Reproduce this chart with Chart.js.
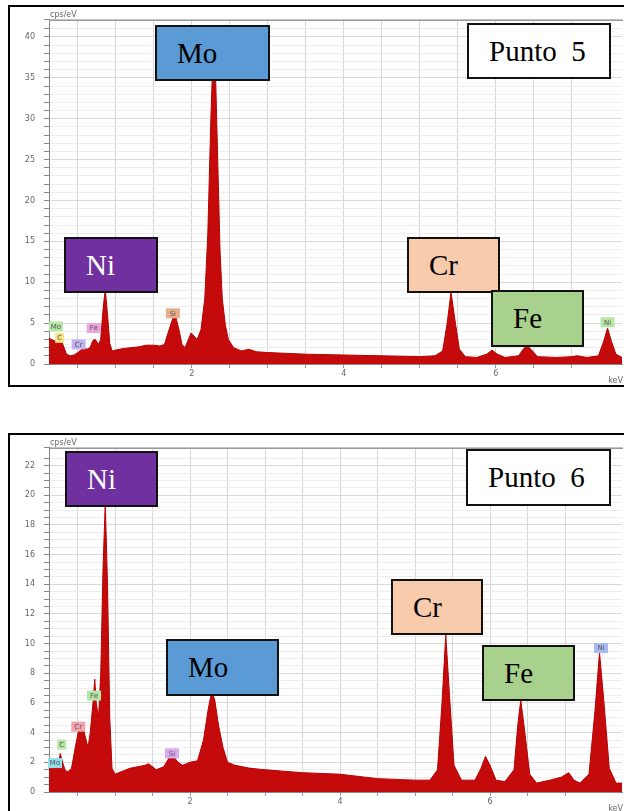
<!DOCTYPE html>
<html>
<head>
<meta charset="utf-8">
<script src="https://cdn.jsdelivr.net/npm/chart.js@4.4.0/dist/chart.umd.min.js"></script>
<style>
  html, body { margin: 0; padding: 0; background: #fff; width: 624px; height: 811px; overflow: hidden; position: relative; }
  .frame { position: absolute; border-left: 2px solid #000; border-top: 2px solid #000; border-bottom: 2px solid #000; box-sizing: border-box; }
  canvas { position: absolute; }
  .box { position: absolute; box-sizing: border-box; border: 2px solid #111; font-family: "Liberation Serif", "Times New Roman", serif; font-size: 29px; line-height: 1; display: flex; align-items: center; padding-left: 20px; color: #000; }
</style>
</head>
<body>
<div class="frame" style="left:8px; top:5px; width:630px; height:382px;"></div>
<div class="frame" style="left:8px; top:433px; width:630px; height:400px;"></div>
<canvas id="c1" width="614" height="380" style="left:9px; top:6px;"></canvas>
<canvas id="c2" width="614" height="380" style="left:9px; top:434px;"></canvas>

<div class="box" style="left:155px; top:25px; width:115px; height:56px; background:#5b9bd5;">Mo</div>
<div class="box" style="left:467px; top:23px; width:144px; height:56px; background:#fff;">Punto&nbsp; 5</div>
<div class="box" style="left:64px; top:237px; width:94px; height:56px; background:#7030a0; color:#fff;">Ni</div>
<div class="box" style="left:407px; top:237px; width:93px; height:56px; background:#f8cbad;">Cr</div>
<div class="box" style="left:491px; top:290px; width:93px; height:57px; background:#a9d18e;">Fe</div>

<div class="box" style="left:65px; top:451px; width:93px; height:56px; background:#7030a0; color:#fff;">Ni</div>
<div class="box" style="left:466px; top:449px; width:145px; height:57px; background:#fff;">Punto&nbsp; 6</div>
<div class="box" style="left:391px; top:579px; width:92px; height:56px; background:#f8cbad;">Cr</div>
<div class="box" style="left:166px; top:639px; width:113px; height:57px; background:#5b9bd5;">Mo</div>
<div class="box" style="left:482px; top:645px; width:93px; height:56px; background:#a9d18e;">Fe</div>

<script>
// ---------- Punto 5 spectrum ----------
const energy5 = [0.12,0.15,0.20,0.25,0.28,0.31,0.35,0.40,0.45,0.50,0.55,0.58,0.62,0.66,0.70,0.73,0.77,0.80,0.83,0.86,0.89,0.92,0.95,1.00,1.10,1.20,1.30,1.40,1.50,1.58,1.64,1.70,1.75,1.79,1.83,1.87,1.91,1.95,1.99,2.03,2.07,2.12,2.17,2.21,2.25,2.28,2.31,2.34,2.37,2.40,2.44,2.48,2.55,2.65,2.75,2.85,3.00,3.50,4.00,4.50,5.00,5.20,5.30,5.36,5.41,5.46,5.52,5.60,5.75,5.88,5.95,6.02,6.12,6.30,6.36,6.41,6.47,6.55,6.80,7.00,7.07,7.20,7.35,7.42,7.47,7.52,7.58,7.66];
const counts5 = [3.2,3.0,2.8,2.7,2.9,2.2,1.2,1.0,1.1,1.4,1.8,2.0,1.8,2.0,2.9,3.0,2.4,3.0,6.5,9.2,6.0,2.5,1.6,1.7,1.9,2.0,2.1,2.3,2.3,2.2,2.4,4.2,5.6,5.7,4.2,2.4,2.0,2.9,3.8,3.4,3.0,4.2,8.0,16.0,30.0,38.5,36.0,25.0,14.0,8.0,4.8,3.0,2.0,1.6,1.8,1.5,1.4,1.2,1.1,1.0,0.9,1.0,1.6,5.0,8.8,5.5,1.8,0.9,0.8,1.2,1.7,1.2,0.8,1.0,1.8,2.3,1.7,0.9,0.8,0.9,1.0,0.8,1.0,2.8,4.4,2.8,1.2,0.8];
const tags5 = ["Mo","C","Cr","Fe","Si","Ni"];
const tagE5 = [0.21,0.26,0.51,0.71,1.75,7.47];
const tagY5 = [4.6,3.2,2.4,4.4,6.2,5.1];
const tagBg5 = ["#b5e6a6","#f4e58a","#c3b2f2","#e7a6dc","#eab08e","#b5e6a6"];
const yTicks5 = [0,5,10,15,20,25,30,35,40];

// ---------- Punto 6 spectrum ----------
const energy6 = [0.12,0.18,0.24,0.27,0.30,0.34,0.38,0.42,0.47,0.52,0.56,0.60,0.64,0.67,0.71,0.73,0.75,0.78,0.81,0.84,0.87,0.90,0.93,0.96,1.00,1.10,1.20,1.30,1.40,1.45,1.55,1.65,1.72,1.78,1.84,1.90,2.00,2.10,2.18,2.24,2.29,2.33,2.38,2.44,2.50,2.60,2.80,3.00,3.50,4.00,4.50,5.00,5.20,5.30,5.36,5.41,5.46,5.52,5.62,5.80,5.88,5.94,6.00,6.08,6.20,6.32,6.37,6.41,6.46,6.53,6.62,6.80,6.95,7.05,7.12,7.20,7.32,7.40,7.46,7.52,7.59,7.68,7.76];
const counts6 = [1.6,1.6,1.7,2.6,2.0,1.4,1.4,1.6,3.0,4.3,4.6,3.8,3.0,4.0,6.2,7.6,6.0,5.0,8.0,15.0,19.5,14.0,5.0,1.6,1.2,1.4,1.6,1.7,1.8,1.9,1.5,1.7,2.3,2.4,2.0,1.8,2.0,2.1,3.5,5.5,6.8,6.2,4.5,3.0,2.0,1.8,1.6,1.5,1.3,1.2,0.9,0.8,0.8,1.5,6.0,10.6,6.5,1.8,0.8,0.8,1.6,2.4,1.8,0.8,0.7,1.5,4.5,6.2,4.2,1.2,0.6,0.8,1.0,1.3,0.8,0.6,1.2,5.5,9.4,6.0,1.6,0.6,0.6];
const tags6 = ["Mo","C","Cr","Fe","Si","Ni"];
const tagE6 = [0.20,0.29,0.51,0.72,1.76,7.48];
const tagY6 = [1.95,3.2,4.4,6.5,2.6,9.7];
const tagBg6 = ["#90dfe9","#b5e6a6","#f2a3ad","#b5e6a6","#d9a9f2","#a9b9f2"];
const yTicks6 = [0,2,4,6,8,10,12,14,16,18,20,22];

const xTickLabels = [2,4,6];

function near(v, arr) { return arr.some(a => Math.abs(v - a) < 1e-6); }

function makeChart(id, energy, counts, xMax, yMax, yStep, yLabels, tags, tagE, tagY, tagBg, xAxisH) {
  const extras = {
    id: 'extras' + id,
    afterDraw(chart) {
      const ctx = chart.ctx, a = chart.chartArea;
      const xs = chart.scales.x, ys = chart.scales.y;
      ctx.save();
      // top frame line of plot
      ctx.strokeStyle = '#9a9a9a'; ctx.lineWidth = 1.5;
      ctx.beginPath(); ctx.moveTo(a.left, a.top + 0.5); ctx.lineTo(a.right + 4, a.top + 0.5); ctx.stroke();
      // axis unit labels
      ctx.fillStyle = '#666'; ctx.font = '8px "DejaVu Sans"';
      ctx.textAlign = 'left'; ctx.textBaseline = 'bottom';
      ctx.fillText('cps/eV', a.left + 1, a.top - 1);
      ctx.textAlign = 'right'; ctx.textBaseline = 'middle';
      ctx.fillText('keV', a.right + 1, a.bottom + 17);
      // element tags
      ctx.font = '7px "DejaVu Sans"'; ctx.textAlign = 'center'; ctx.textBaseline = 'middle';
      for (let i = 0; i < tags.length; i++) {
        const px = xs.getPixelForValue(tagE[i]);
        const py = ys.getPixelForValue(tagY[i]);
        const w = tags[i].length > 1 ? 14 : 9;
        ctx.fillStyle = tagBg[i];
        ctx.fillRect(px - w / 2, py - 5, w, 10);
        ctx.fillStyle = '#555';
        ctx.fillText(tags[i], px, py + 0.5);
      }
      ctx.restore();
    }
  };
  return new Chart(document.getElementById(id), {
    type: 'line',
    data: {
      labels: energy,
      datasets: [{
        data: energy.map((e, i) => ({ x: e, y: counts[i] })),
        borderColor: '#b80000',
        backgroundColor: '#c40a0a',
        borderWidth: 1,
        pointRadius: 0,
        fill: 'origin',
        tension: 0
      }]
    },
    options: {
      responsive: false,
      animation: false,
      devicePixelRatio: 1,
      layout: { padding: { top: 13, right: 0, left: 0, bottom: 0 } },
      plugins: { legend: { display: false }, tooltip: { enabled: false } },
      scales: {
        x: {
          type: 'linear', min: 0.12, max: xMax,
          afterFit: s => { s.height = xAxisH; },
          border: { display: true, color: '#888', width: 1 },
          grid: {
            color: c => (Math.abs(c.tick.value * 2 - Math.round(c.tick.value * 2)) < 1e-6 && c.tick.value > 0.2 && c.tick.value < xMax - 0.05) ? '#d6d6d6' : 'rgba(0,0,0,0)',
            tickColor: c => (Math.abs(c.tick.value * 2 - Math.round(c.tick.value * 2)) < 1e-6 && c.tick.value > 0.2) ? '#999' : 'rgba(0,0,0,0)',
            tickLength: 4, lineWidth: 1
          },
          ticks: {
            stepSize: 0.5, autoSkip: false, maxRotation: 0, padding: 1,
            color: '#666', font: { family: 'DejaVu Sans', size: 8 },
            callback: v => near(v, xTickLabels) ? String(Math.round(v)) : ''
          }
        },
        y: {
          type: 'linear', min: 0, max: yMax,
          afterFit: s => { s.width = 40; },
          border: { display: true, color: '#888', width: 1 },
          grid: {
            color: c => near(c.tick.value, yLabels) ? '#d9d9d9' : '#ededed',
            tickColor: '#888',
            tickLength: 5, lineWidth: 1
          },
          ticks: {
            stepSize: yStep, autoSkip: false, padding: 9,
            color: '#666', font: { family: 'DejaVu Sans', size: 8 },
            callback: v => near(v, yLabels) ? String(Math.round(v)) : ''
          }
        }
      }
    },
    plugins: [extras]
  });
}

makeChart('c1', energy5, counts5, 7.66, 42.1, 1, yTicks5, tags5, tagE5, tagY5, tagBg5, 22);
makeChart('c2', energy6, counts6, 7.76, 23.2, 0.5, yTicks6, tags6, tagE6, tagY6, tagBg6, 22);
</script>
</body>
</html>
